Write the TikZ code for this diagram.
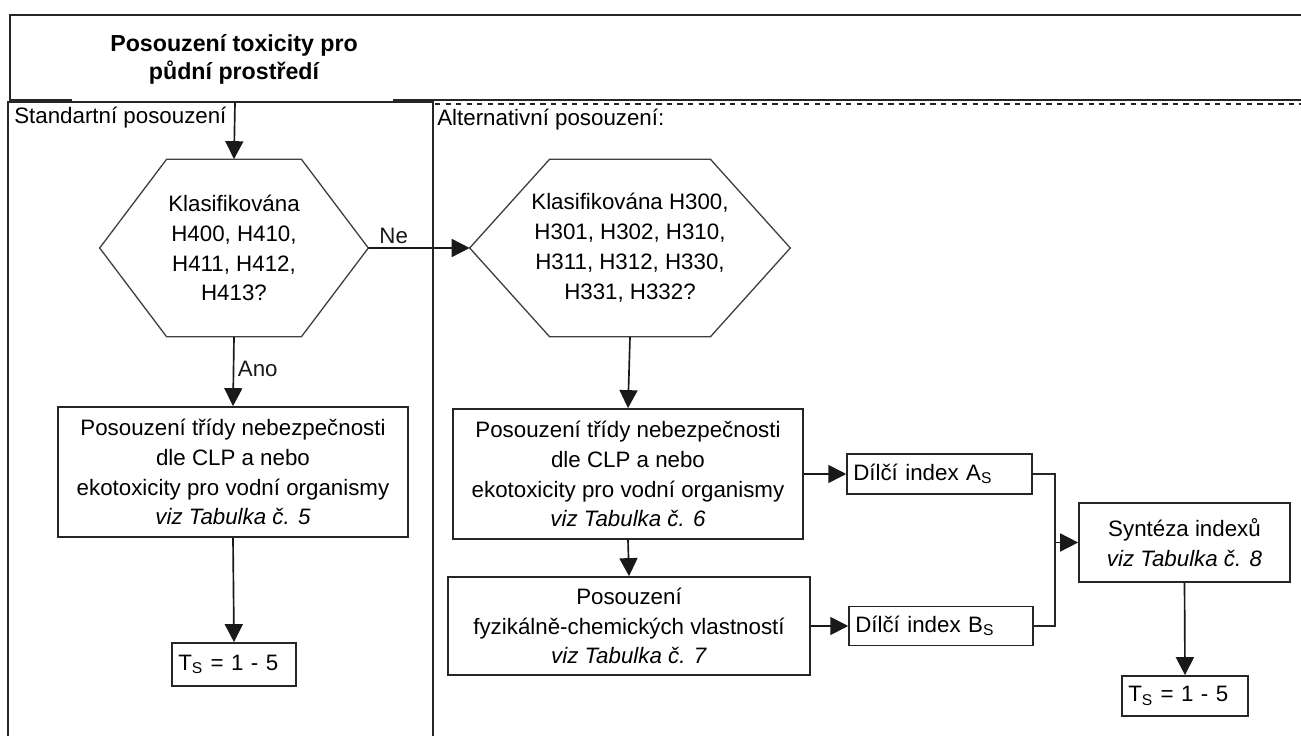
\documentclass[tikz,border=0pt]{standalone}
\usepackage{fontspec}
\setmainfont{Liberation Sans}
\usetikzlibrary{arrows.meta,positioning}

\begin{document}
\begin{tikzpicture}[
        x=0.02cm,
        y=-0.02cm,
        font=\fontsize{12.7}{17}\selectfont,
        frame/.style={black!85, line width=0.95pt},
        hexline/.style={black!75, line width=0.75pt},
        hexnode/.style={inner sep=0pt, align=center},
        box/.style={draw=black!85, line width=1pt, align=center, inner sep=0pt},
        smallbox/.style={draw=black!85, line width=1pt, align=left, inner xsep=3.5pt, inner ysep=0pt},
        flow/.style={-{Triangle[length=0.36cm, width=0.36cm]}, black!90, line width=0.95pt}
    ]
        \useasboundingbox (0,0) rectangle (1301,736);

        % frames
        \draw[frame] (72,100) -- (10,100) -- (10,15) -- (1301,15);
        \draw[frame] (393,100) -- (1301,100);
        \draw[frame] (8,736) -- (8,102) -- (433,102) -- (433,736);
        \draw[frame, dashed] (435,104) -- (1301,104);

        \node[font=\fontsize{13.2}{16}\selectfont\bfseries, align=center] (title) at (234,59)
            {Posouzení toxicity pro\\půdní prostředí};
        \node[anchor=west, inner sep=0pt] (stdlabel) at (14,118) {Standartní posouzení};
        \node[anchor=west, inner sep=0pt] (altlabel) at (437,120) {Alternativní posouzení:};
        \coordinate (stdin) at (235,102);

        % questions
        \node[hexnode, minimum width=5.36cm, minimum height=3.54cm] (classA) at (234,248)
            {Klasifikována\\H400, H410,\\H411, H412,\\H413?};
        \node[hexnode, minimum width=6.4cm, minimum height=3.54cm] (classB) at (630,248)
            {Klasifikována H300,\\H301, H302, H310,\\H311, H312, H330,\\H331, H332?};
        \foreach \q/\c in {classA/1.34cm, classB/1.6cm} {
            \draw[hexline] (\q.west) -- ([xshift=\c]\q.north west) -- ([xshift=-\c]\q.north east)
                -- (\q.east) -- ([xshift=-\c]\q.south east) -- ([xshift=\c]\q.south west) -- cycle;
        }

        % boxes
        \node[box, minimum width=7cm, minimum height=2.6cm] (hazardA) at (233,472)
            {Posouzení třídy nebezpečnosti\\dle CLP a nebo\\ekotoxicity pro vodní organismy\\\textit{viz Tabulka č. 5}};
        \node[box, minimum width=7cm, minimum height=2.6cm] (hazardB) at (628,474)
            {Posouzení třídy nebezpečnosti\\dle CLP a nebo\\ekotoxicity pro vodní organismy\\\textit{viz Tabulka č. 6}};
        \node[box, minimum width=7.24cm, minimum height=1.96cm] (physchem) at (629,626)
            {Posouzení\\fyzikálně-chemických vlastností\\\textit{viz Tabulka č. 7}};
        \node[smallbox, text width=3.45cm, minimum height=0.8cm] (indexA) at (939.5,474)
            {Dílčí index A\textsubscript{S}};
        \node[smallbox, text width=3.43cm, minimum height=0.78cm] (indexB) at (941,626)
            {Dílčí index B\textsubscript{S}};
        \node[box, minimum width=4.22cm, minimum height=1.58cm] (synth) at (1184.5,542.5)
            {Syntéza indexů\\\textit{viz Tabulka č. 8}};
        \node[smallbox, text width=2.23cm, minimum height=0.86cm] (resultA) at (234,664.5)
            {T\textsubscript{S} = 1 - 5};
        \node[smallbox, text width=2.27cm, minimum height=0.8cm] (resultB) at (1185,696)
            {T\textsubscript{S} = 1 - 5};
        \coordinate (merge) at ([xshift=-0.46cm]synth.west);

        % connectors
        \draw[flow] (stdin) -- (classA.north);
        \draw[flow] (classA.east) -- node[above, pos=0.25, inner sep=2pt] (ne) {Ne} (classB.west);
        \draw[flow] (classA.south) -- node[right, pos=0.47, inner sep=2pt] (ano) {Ano} (hazardA.north);
        \draw[flow] (hazardA.south) -- (resultA.north);
        \draw[flow] (classB.south) -- (hazardB.north);
        \draw[flow] (hazardB.south) -- (physchem.north);
        \draw[flow] (hazardB.east) -- (indexA.west);
        \draw[flow] (physchem.east) -- (indexB.west);
        \draw[frame] (indexA.east) -| (merge);
        \draw[frame] (indexB.east) -| (merge);
        \draw[flow] (merge) -- (synth.west);
        \draw[flow] (synth.south) -- (resultB.north);
    \end{tikzpicture}
\end{document}
